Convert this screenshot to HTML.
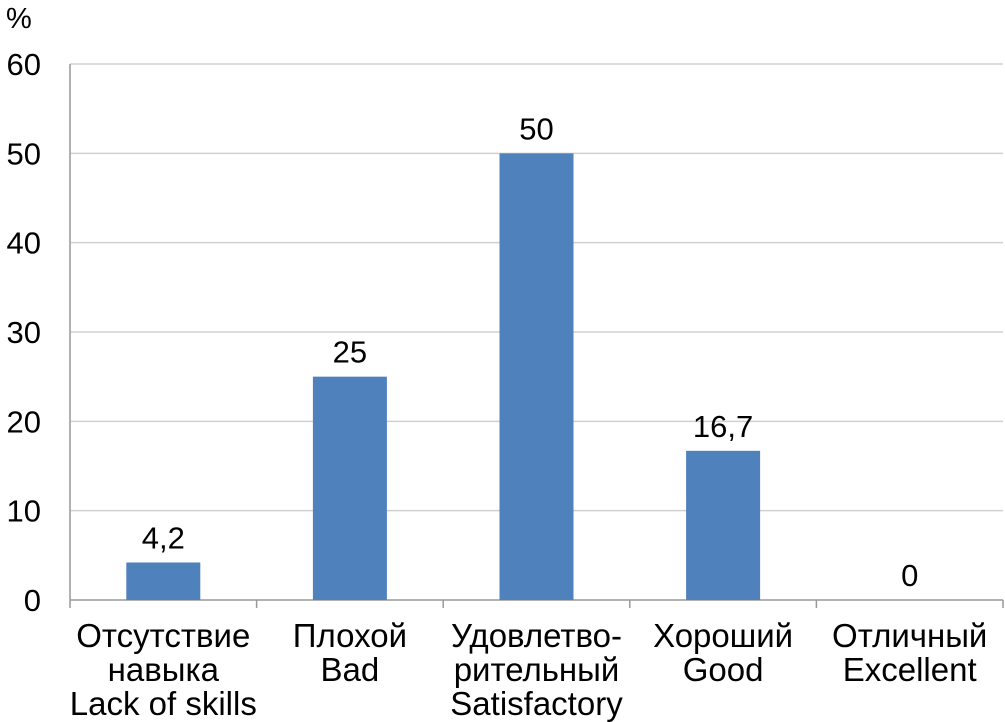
<!DOCTYPE html>
<html><head><meta charset="utf-8"><style>
html,body{margin:0;padding:0;background:#fff;}
svg{display:block;font-family:"Liberation Sans",Arial,sans-serif;}
</style></head><body>
<svg id="chart" width="1005" height="722"></svg>
<script>
const categories=[["Отсутствие","навыка","Lack of skills"],["Плохой","Bad"],["Удовлетво-","рительный","Satisfactory"],["Хороший","Good"],["Отличный","Excellent"]];
const values=[4.2,25,50,16.7,0];
const valueLabels=["4,2","25","50","16,7","0"];
const yTicks=[0,10,20,30,40,50,60];
const NS="http://www.w3.org/2000/svg";
const svg=document.getElementById('chart');
const x0=70,x1=1003,yBase=600,yTop=64,yMax=60;
const bw=(x1-x0)/categories.length;
const y=v=>yBase-(v/yMax)*(yBase-yTop);
const xc=i=>x0+bw*(i+0.5);
function mk(t,a){const e=document.createElementNS(NS,t);for(const k in a)e.setAttribute(k,a[k]);svg.appendChild(e);return e;}
let e=mk('text',{x:6,y:28,'font-size':29,fill:'#000'});e.textContent='%';


yTicks.forEach(t=>{
 if(t>0){const g=mk('line',{x1:x0,x2:x1,y1:y(t),y2:y(t),stroke:'#d0d0d0','stroke-width':1.5});
 
 }
 const l=mk('text',{x:41,y:y(t)+11,'font-size':31,'text-anchor':'end',fill:'#000'});l.textContent=t;
 
 
});
e=mk('line',{x1:x0,x2:x0,y1:yTop,y2:yBase,stroke:'#999','stroke-width':1.5});


e=mk('line',{x1:x0,x2:x1,y1:yBase,y2:yBase,stroke:'#999','stroke-width':1.5});


for(let i=0;i<=categories.length;i++){
 const tk=mk('line',{x1:x0+bw*i,x2:x0+bw*i,y1:yBase,y2:yBase+8,stroke:'#999','stroke-width':1.5});
 
 
}
values.forEach((v,i)=>{
 const b=mk('rect',{x:xc(i)-37,y:y(v),width:74,height:yBase-y(v),fill:'#4F81BD'});
 
 
 const t=mk('text',{x:xc(i),y:y(v)-14,'font-size':31,'text-anchor':'middle',fill:'#000'});t.textContent=valueLabels[i];
 
 
 categories[i].forEach((s,j)=>{
  const c=mk('text',{x:xc(i),y:647+j*34,'font-size':33,'text-anchor':'middle',fill:'#000'});c.textContent=s;
  
  
 });
});
</script>
</body></html>
